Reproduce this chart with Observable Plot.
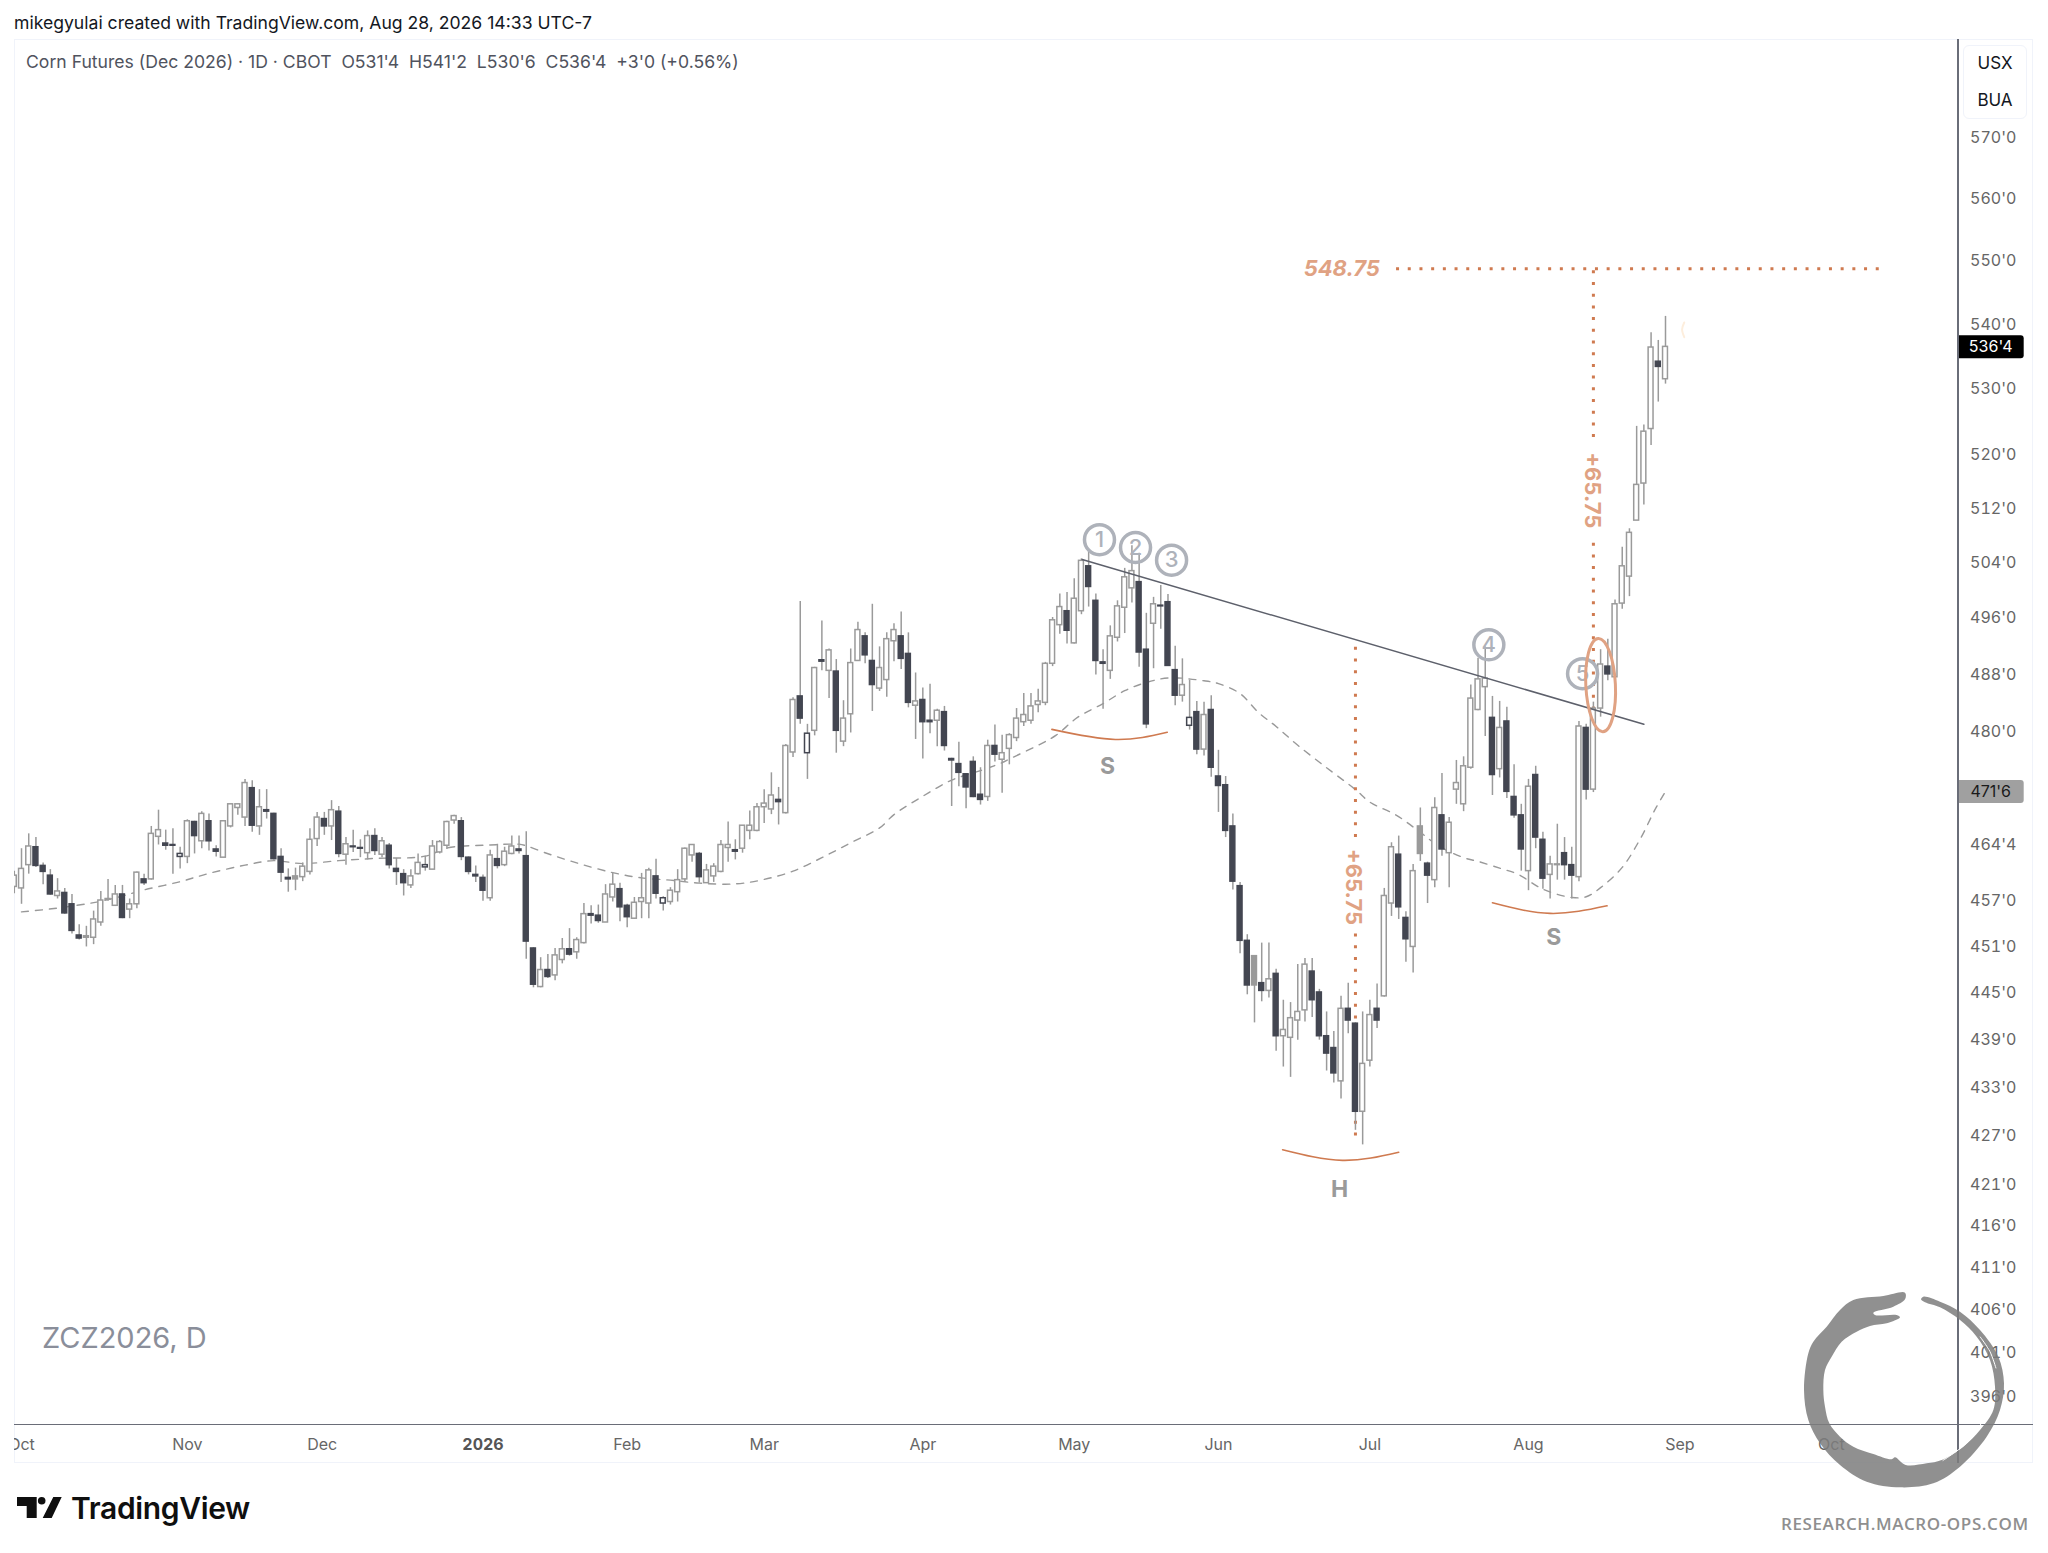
<!DOCTYPE html>
<html><head><meta charset="utf-8">
<script src="https://cdn.jsdelivr.net/npm/d3@7"></script>
<script src="https://cdn.jsdelivr.net/npm/@observablehq/plot@0.6"></script>
<style>
html,body{margin:0;padding:0;background:#fff;width:2048px;height:1553px;overflow:hidden;font-family:Inter,sans-serif}
#stage{position:relative;width:2048px;height:1553px}
#stage>*{position:absolute}
#chart{left:0;top:0}
.t{white-space:pre;line-height:1}
</style></head><body>
<div id="stage">
<div style="left:14px;top:39px;width:2019px;height:1424px;border:1px solid #f0f3fa;box-sizing:border-box"></div>
<div id="chart"></div>
<div style="left:0;top:1428px;width:14px;height:32px;background:#fff"></div>
<div style="left:1957px;top:39px;width:1.5px;height:1424px;background:#6a6d78"></div>
<div style="left:14px;top:1423.5px;width:2019px;height:1.5px;background:#6a6d78"></div>
<div style="left:1963px;top:45px;width:64px;height:74px;border:1px solid #f0f3fa;border-radius:6px;box-sizing:border-box;background:#fff"></div>
<div class="t" style="left:1963px;top:55px;width:64px;text-align:center;font-size:17px;color:#131722">USX</div>
<div class="t" style="left:1963px;top:92px;width:64px;text-align:center;font-size:17px;color:#131722">BUA</div>
<div class="t" style="left:14px;top:14px;font-size:17.6px;color:#131722">mikegyulai created with TradingView.com, Aug 28, 2026 14:33 UTC-7</div>
<div class="t" style="left:26px;top:53px;font-size:17.6px;color:#50535e">Corn Futures (Dec 2026) · 1D · CBOT  O531'4  H541'2  L530'6  C536'4  +3'0 (+0.56%)</div>
<div class="t" style="left:42px;top:1323px;font-size:29px;color:#8a8e9a">ZCZ2026, D</div>
<div class="t" style="left:71px;top:1493px;font-size:30px;font-weight:600;letter-spacing:-.35px;color:#0f0f0f">TradingView</div>
<div class="t" style="left:1781px;top:1515px;font-size:17px;font-family:'Open Sans';font-weight:600;color:#8f8f8f;letter-spacing:.6px">RESEARCH.MACRO-OPS.COM</div>
<svg id="tvlogo" width="60" height="30" viewBox="0 0 60 30" style="left:16px;top:1496px">
<path d="M1 1H20.7V22H10.7V10H1Z M37.3 1H45.7L35.7 22H26.7Z" fill="#0f0f0f"/><circle cx="25.7" cy="4.7" r="3.8" fill="#0f0f0f"/></svg>
<svg id="ouro" width="288" height="283" viewBox="0 0 864 849" style="left:1760px;top:1270px"></svg>
</div>
<script>
const high=[461,464,466,465.5,462.1,461.2,460,458.7,457.9,453.9,
453.7,455.7,458.3,459.9,459.1,459.1,457.3,460.9,460.6,467,
469.2,466.5,466.7,464.2,467.9,467.7,469,468.7,464.4,467.8,
470,470,473.4,473.2,472,472,468.8,464,461.3,461.4,
462.1,466.7,468.9,468.9,470.5,469.7,465.5,466.5,465.2,466.4,
466.7,465.5,464.7,462.7,461.2,461.2,463.3,463,465.1,465.1,
467.7,468.5,468.2,462.9,461.7,460.5,463.8,464.6,464.2,465.7,
465.7,466.3,450.9,449.6,450,450.8,452.1,453.4,452.2,456.7,
456.4,456.5,459.2,460.7,459.4,456.6,457.5,460.7,461.4,462.6,
457.6,458.8,461.2,464.1,464.5,463.5,461.9,462,465.1,467.6,
465.2,467.1,469.1,470.1,472,474.3,472.3,478.2,484.7,498.4,
481,489,495.6,491.6,490.1,484.3,491.6,495.4,493.9,498,
491.9,493.9,495.2,496.9,493.9,488.2,486.1,486.6,483.1,483.5,
476.3,478.5,474.2,476.5,475,478.8,480.9,479.5,479.7,483.2,
485.3,485.3,485.9,489.7,496.1,499.5,499.7,501.7,504.6,505.8,
499.5,491.5,494.9,498.5,503.2,506.5,505.4,496.7,499,500.7,
499.4,492,490.2,487.2,484.2,484.1,485,477.4,473.8,468.7,
459.5,452.6,449.8,451.5,451.5,448.1,444.1,443.8,448.7,449.5,
449.5,445.5,442.6,440.1,444.6,446.3,441.2,442.6,444.1,446.2,
458.7,464.8,465.7,455.6,461.9,469.5,462.2,470.9,474.2,468.2,
476,476.5,486.5,490.3,491.9,484.9,484.2,483.4,475.4,470,
473.4,475.2,466.2,463,467.3,465.5,464.2,481.4,481,484.1,
491.5,493,498.6,506.3,509,524.3,524.5,538.7,537.5,541.25];
const low=[458,456.6,460.6,461.5,459.2,457.8,457.3,455.3,452.7,451.9,
451,451.3,453.7,457,456.3,454.7,454.7,456,459.1,459.8,
464.5,463.8,460.6,461.3,462,463.3,464,463.7,462.9,462.8,
466.8,468.5,467,466.2,465.8,468,462.5,459.5,458.2,458.4,
459.6,460.5,464.3,465.8,465.1,462.8,461.8,463.5,462.8,462.5,
463.1,462.8,461.3,459.1,457.7,458.7,460.5,461,461.2,463.3,
463.9,467.3,462.4,460.5,459.5,457,457,461.3,461.6,463.2,
463.3,449.4,445.7,445.7,446.9,446.6,448.8,449.8,449.4,451.4,
454,454.1,454.2,456.9,454.3,453.5,454.6,454.7,454.7,457.3,
455.7,456.5,456.9,459.5,462.2,459.4,459.4,459.5,460.8,462.2,
462.5,463.4,465.2,466.3,467.4,468.6,467.2,468.7,476.4,481,
473.4,479.4,488.5,484.6,477,477.9,479.8,489.9,489.5,482.8,
485.6,484.8,489.8,488.7,483.3,478.9,476.2,479.7,477.9,477.3,
469.7,472.4,469.4,470.9,469.9,470.4,475.8,471.5,475.4,478.6,
480.7,481,482.6,483.6,489.1,493.7,492.3,492.3,496.5,497.6,
487.9,483.1,487.3,492.6,493.8,498.2,489,480.4,488.8,494.4,
489.1,483.6,484.1,480.2,476.8,476.6,473.7,468.9,465.5,458.5,
450.1,444.8,441.2,443.9,444.4,437.6,435.6,434.3,439,441.3,
441.9,439,435.1,433.6,431.6,439.8,427.7,425.9,435.6,440.5,
444.5,455,454.6,449,447.6,462.3,456.7,458.8,463,458.8,
470,469,474.8,482.9,479.3,471.2,473.6,470.8,468.1,461,
458.4,464,458.6,457.3,459.8,459.8,457.3,459.6,470.6,471.6,
482,487.1,486.6,497.3,499.1,510.2,512.5,521.4,528,530.75];
const open=[458.9,458.7,461.8,464.2,461.7,460.4,457.7,458.1,456.6,452.5,
452.2,452.2,454.2,457.2,456.4,457.9,455.9,456.6,459.9,459.9,
465.6,464.7,464.5,462.9,462.9,467.6,465,467.7,463.9,462.8,
467,469.5,468.2,472.2,467,469.2,468.7,462.9,460.1,460.3,
460.2,460.9,465.3,468,467,469,463.2,464.3,464.1,463.4,
465.7,463.2,464.4,461.3,460.6,459.1,460.6,461.5,461.2,463.5,
464.4,467.8,467.7,462.8,460.5,460.1,457.4,462.6,461.8,463.3,
463.9,463,450.8,445.8,448,447.3,449.3,450.7,450.3,451.5,
455.3,455.1,454.2,457.5,458.6,456.4,454.7,456.9,456.7,460.3,
456.7,456.9,458.2,459.9,463.1,463.3,459.4,460.3,460.9,464.1,
463.8,464,466.4,466.4,469.6,469.3,470.6,468.8,477.1,484.9,
477,480.1,490,488.5,488.4,478.6,482.4,489.9,493.4,489.9,
486,487.2,492.7,493.4,490.9,483.6,484.4,481.5,481.5,482.7,
476.2,475.5,474.1,475.8,471.3,471,478,476.1,477.6,479.1,
481.3,481.5,483.7,484,489.5,495,497,492.4,497,503.5,
498.5,489.7,488.5,493.2,497.5,500.3,501.2,491.5,495.2,497.8,
498.3,488.6,485,480.8,482.7,477.5,483,473.8,472.6,467,
459,451.8,449.8,446.3,445.3,447.5,439.5,439.3,441.5,442.8,
447.8,445.1,439.5,438,433.8,443,441.1,430,436.4,443,
444.6,456.7,463.2,454.8,451,463.3,462,459.8,468.5,463.4,
472,470,475,483,486.2,481.9,474.8,481.4,471,468.5,
461,474,465.2,460.5,461.8,463.4,461.8,460.2,480.5,472,
483.2,489.1,487.6,498.1,502,510.2,515.7,523.9,534.2,531.5];
const close=[460.4,461.3,464.3,461.7,460.9,457.9,458.3,455.4,453.1,452.1,
452.4,454.6,457.1,457.3,457.9,454.8,456.6,460.8,459.4,466,
466.5,464.4,464.4,463.3,467.7,465.7,468.7,465,463.6,467.7,
470,470,472.9,467.1,469.6,469,462.6,460.8,459.9,459.9,
461.6,465.2,468.2,467,469.2,463.3,464.6,464.2,464,465.7,
463.7,465,461.8,460.9,459.4,460.3,462.1,461.8,464.3,464.9,
467.6,468.4,462.9,460.9,460.3,458.4,463.1,461.7,463.6,464.3,
463.7,451.7,446.1,448,447.1,449.9,450.7,450,451.9,455.3,
455.1,454.4,457.9,459.2,456.2,454.9,456.8,457.4,461.1,458,
457.4,458.4,459.8,464,464.5,460.2,461.1,461.6,464.5,464.5,
463.6,467.1,467.1,469.6,470.1,471.2,470.3,478,484.4,481.8,
479.7,488.9,489.8,491.4,480.1,481.8,489.6,494.3,490.7,486.5,
488.9,493,494.3,490.2,484,484.2,481.3,481.3,482.9,478,
476,474.3,472.3,471,470.6,478,476.8,477,479.5,481.8,
482.3,483.5,484.2,489.5,495.7,497.6,494.2,498.8,504.3,500.5,
489.9,489.5,493.4,497.7,501.9,502.8,491.1,481,498,497.7,
489.2,485,486.5,481.9,477.5,482.3,475,472.5,466.4,459.6,
451.8,446,446,445.3,446.8,439.5,440.3,441.8,442.6,448.7,
444.1,439.5,437.3,434.8,443,441.5,430,436,442.2,441.5,
457.7,464.2,456.2,452,461,467,460.4,469.5,463.9,467.5,
472.9,475.2,484.6,487.3,487.4,474,480.5,471.7,468.5,463.9,
472.4,465.5,460,461.9,461.9,461.8,460.4,480.7,472,483.2,
489.4,488,498,503.5,508.4,515.5,523.5,536.4,533.4,536.5];
const grayFillBars=[10,13,39,172,195,214];
const darkOutlineBars=[23,57,90,110,163];
const maBars=[1,6,12,15,18,23,27,32,36,40,45,50,57,60,66,70,71,73.5,78,83,87,91,95,100,104,108,112,116,120,122,126,130,134,137,138,142,144.5,147.5,151,154,156.5,160,165,167,170,172.5,175,178,182,186,188,191.7,195,197.5,201,203,206,208.5,212,216,218,220,223,225.6,227.5,229];
const maValues=[455.6,456.1,457,457.7,458.5,459.6,460.7,461.8,462.4,462,462.4,462.7,463,464.1,464.5,464.6,464.4,463.5,462.1,460.8,460.1,459.8,459.4,459.3,459.9,461,462.8,464.8,466.8,468.6,471.1,473.3,474.6,475.7,476.2,478.1,479.5,482,483.9,485.7,486.7,487.5,487.1,486.7,485.3,482.7,480.7,478.1,475,472,470.3,468.5,466.2,464.4,462.8,462.3,461.4,460.6,458.6,457.5,457.6,458.8,461.5,465.5,469.2,471.75];
const yTicks=[570,560,550,540,530,520,512,504,496,488,480,464.5,457,451,445,439,433,427,421,416,411,406,401,396];
const monthTicks=[1,24,42.7,85,104,126,147,167,188,210,231,252];
const monthLabels=["Oct","Nov","Dec","Feb","Mar","Apr","May","Jun","Jul","Aug","Sep","Oct"];
const yearTicks=[65], yearLabels=["2026"];
const trendBars=[148.1,226], trendPrices=[504.5,481];
const targetPrice=548.75, targetBars=[191.7,259.1], targetTextBar=184.1;
const measureBars=[186,186,219,219];
const measureFrom=[427,465.5,483,522.6], measureTo=[453,492.75,507.1,548.75];
const measureText=["+65.75","+65.75"], measureTextBars=[185.7,218.8], measureTextPrices=[458.9,514.7];
const circleLabels=["1","2","3","4","5"], circleBars=[150.5,155.5,160.5,204.5,217.5], circlePrices=[507.4,506.25,504.4,492.2,488.1];
const patternLabels=["S","H","S"], patternBars=[151.6,183.8,213.5], patternPrices=[475.3,420.6,452.4];
const arcs=[{b:[143.9,152.7,159.9],p:[480.3,478.9,479.9]},{b:[175.9,184.2,192],p:[425.3,424,425]},{b:[205,213,220.9],p:[456.8,455.4,456.4]}];
const faintBars=[231.6,231.3,231.6], faintPrices=[540.3,539.2,538];
const ovalBar=220, ovalPrice=486.5;
const lastPrice=536.5, maPrice=471.75, badgeBar=274.1;
const N=high.length, idx=d3.range(N);
const fmt=p=>`${Math.floor(p)}'${Math.round((p-Math.floor(p))*8)}`;
const DARK="#434651", WICK="#9a9a9a", ORANGE="#cf7a50", PEACH="#e0a283", RING="#aeb2ba";
const isGray=new Set(grayFillBars), isDarkO=new Set(darkOutlineBars);
const fillOf=i=>isGray.has(i)?"#9a9a9a":close[i]<open[i]?DARK:"#fff";
const strokeOf=i=>isGray.has(i)?"#9a9a9a":(close[i]<open[i]||isDarkO.has(i))?DARK:"#9a9a9a";
const ell=(rx,ry,t)=>({draw(c){const k=.5523,co=Math.cos(t),si=Math.sin(t);const P=(x,y)=>[x*co-y*si,x*si+y*co];
 c.moveTo(...P(rx,0));c.bezierCurveTo(...P(rx,k*ry),...P(k*rx,ry),...P(0,ry));c.bezierCurveTo(...P(-k*rx,ry),...P(-rx,k*ry),...P(-rx,0));c.bezierCurveTo(...P(-rx,-k*ry),...P(-k*rx,-ry),...P(0,-ry));c.bezierCurveTo(...P(k*rx,-ry),...P(rx,-k*ry),...P(rx,0));c.closePath();}});
const badge={draw(c){const w=33,h=11.5,r=3;c.moveTo(-w,-h);c.lineTo(w-r,-h);c.arcTo(w,-h,w,-h+r,r);c.lineTo(w,h-r);c.arcTo(w,h,w-r,h,r);c.lineTo(-w,h);c.closePath();}};
const chart=Plot.plot({
 width:2048,height:1553,marginLeft:14,marginRight:91,marginTop:39,marginBottom:129,
 style:{fontFamily:"Inter,sans-serif",background:"transparent",overflow:"visible"},
 x:{type:"linear",domain:[0,229],range:[13.8,1665],axis:null},
 y:{type:"log",domain:[396,570],range:[1396,137],axis:null},
 marks:[
  Plot.axisY(yTicks,{anchor:"right",tickSize:0,tickPadding:12.5,tickFormat:fmt,label:null,fontSize:16,fill:"#666",textAnchor:"start"}),
  Plot.axisX(monthTicks,{anchor:"bottom",tickSize:0,tickPadding:14,tickFormat:(d,i)=>monthLabels[i],label:null,fontSize:16,fill:"#666"}),
  Plot.axisX(yearTicks,{anchor:"bottom",tickSize:0,tickPadding:14,tickFormat:(d,i)=>yearLabels[i],label:null,fontSize:16,fontWeight:700,fill:"#555"}),
  Plot.line(maBars,{x:d=>d,y:(d,i)=>maValues[i],stroke:"#999",strokeWidth:1.4,strokeDasharray:"7,7",curve:"catmull-rom",clip:true}),
  Plot.ruleX(measureBars,{x:d=>d,y1:(d,i)=>measureFrom[i],y2:(d,i)=>measureTo[i],stroke:ORANGE,strokeWidth:3,strokeDasharray:"3,8.7"}),
  Plot.ruleX(idx,{x:i=>i,y1:i=>low[i],y2:i=>high[i],stroke:WICK,strokeWidth:1.5,clip:true}),
  Plot.rect(idx,{x1:i=>i-.34,x2:i=>i+.34,y1:i=>Math.min(open[i],close[i]),y2:i=>Math.max(open[i],close[i]),fill:fillOf,stroke:strokeOf,strokeWidth:1.5,clip:true}),
  Plot.line(trendBars,{x:d=>d,y:(d,i)=>trendPrices[i],stroke:"#5d606b",strokeWidth:1.5}),
  Plot.ruleY([targetPrice],{x1:targetBars[0],x2:targetBars[1],stroke:ORANGE,strokeWidth:3,strokeDasharray:"3,8.7"}),
  Plot.text(measureText,{x:(d,i)=>measureTextBars[i],y:(d,i)=>measureTextPrices[i],text:d=>d,rotate:90,fill:PEACH,fontSize:22,fontWeight:700}),
  Plot.text([targetPrice],{x:targetTextBar,y:d=>d,text:d=>String(d),fill:PEACH,fontSize:22,fontWeight:700,fontStyle:"italic"}),
  Plot.dot(circleLabels,{x:(d,i)=>circleBars[i],y:(d,i)=>circlePrices[i],r:15,fill:"none",stroke:RING,strokeWidth:3.5}),
  Plot.text(circleLabels,{x:(d,i)=>circleBars[i],y:(d,i)=>circlePrices[i],text:d=>d,fill:RING,fontSize:22,fontWeight:500}),
  Plot.text(patternLabels,{x:(d,i)=>patternBars[i],y:(d,i)=>patternPrices[i],dy:1.5,text:d=>d,fill:"#9a9a9a",fontSize:23,fontWeight:700}),
  ...arcs.map(a=>Plot.line(a.b,{x:d=>d,y:(d,i)=>a.p[i],stroke:ORANGE,strokeWidth:1.6,curve:"natural"})),
  Plot.line(faintBars,{x:d=>d,y:(d,i)=>faintPrices[i],stroke:"#fdeedd",strokeWidth:2,curve:"natural"}),
  Plot.dot([ovalPrice],{x:ovalBar,y:d=>d,symbol:ell(14.8,46.7,-.05),fill:"none",stroke:PEACH,strokeWidth:3}),
  Plot.dot([lastPrice],{x:badgeBar,y:d=>d,symbol:badge,fill:"#000"}),
  Plot.text([lastPrice],{x:badgeBar,y:d=>d,text:fmt,fill:"#fff",fontSize:16}),
  Plot.dot([maPrice],{x:badgeBar,y:d=>d,symbol:badge,fill:"#a0a0a0"}),
  Plot.text([maPrice],{x:badgeBar,y:d=>d,text:fmt,fill:"#1a1a1a",fontSize:16})
 ]});
document.getElementById("chart").append(chart);
const ouro=[[435,68],[370,78],[280,90],[240,120],[200,170],[160,215],[145,250],[132,360],[145,450],[180,520],[240,585],[320,635],[420,652],[520,640],[600,590],[680,500],[720,420],[732,340],[715,260],[660,180],[600,125],[540,95],[490,80],[483,88],[495,97],[540,112],[600,150],[650,200],[690,270],[705,350],[700,420],[660,480],[610,530],[545,570],[500,580],[437,585],[405,562],[395,568],[340,552],[280,530],[240,500],[208,460],[195,410],[190,360],[195,300],[215,260],[245,215],[290,185],[330,168],[380,160],[420,142],[410,135],[345,135],[340,128],[400,110],[435,88]];
const g=d3.select("#ouro");
g.append("path").attr("d",d3.line().curve(d3.curveCatmullRomClosed.alpha(.5))(ouro)).attr("fill","#7d7d7d").attr("fill-opacity",.85);
const sm=d3.line().curve(d3.curveCatmullRom);
g.append("path").attr("d",sm([[660,200],[690,245],[708,295]])).attr("fill","none").attr("stroke","#fff").attr("stroke-width",3);
g.append("path").attr("d",sm([[675,440],[630,510],[548,572]])).attr("fill","none").attr("stroke","#fff").attr("stroke-width",3);
</script>
</body></html>
